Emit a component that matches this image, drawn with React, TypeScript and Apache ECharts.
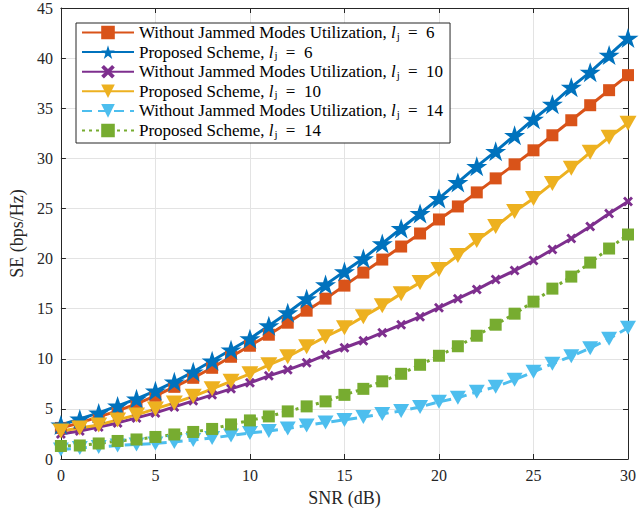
import React, { useEffect, useRef } from "react";
import * as echarts from "echarts";

const snr = [0, 1, 2, 3, 4, 5, 6, 7, 8, 9, 10, 11, 12, 13, 14, 15, 16, 17, 18, 19, 20, 21, 22, 23, 24, 25, 26, 27, 28, 29, 30];

const withoutLj6 = [3.1, 3.6, 4.2, 4.8, 5.5, 6.3, 7.2, 8.1, 9.1, 10.2, 11.3, 12.4, 13.6, 14.8, 16.0, 17.3, 18.6, 19.9, 21.2, 22.5, 23.9, 25.2, 26.6, 28.0, 29.4, 30.8, 32.3, 33.8, 35.3, 36.8, 38.3];
const proposedLj6 = [3.4, 4.0, 4.6, 5.3, 6.0, 6.8, 7.7, 8.7, 9.8, 10.9, 12.0, 13.3, 14.6, 16.0, 17.4, 18.7, 20.0, 21.5, 23.0, 24.5, 26.0, 27.6, 29.2, 30.7, 32.3, 33.9, 35.4, 37.1, 38.6, 40.3, 42.0];
const withoutLj10 = [2.5, 2.8, 3.2, 3.6, 4.1, 4.6, 5.2, 5.8, 6.4, 7.0, 7.6, 8.3, 8.9, 9.6, 10.4, 11.1, 11.8, 12.6, 13.4, 14.2, 15.1, 16.0, 16.9, 17.9, 18.8, 19.8, 20.9, 22.0, 23.2, 24.5, 25.7];
const proposedLj10 = [2.8, 3.1, 3.4, 3.9, 4.4, 5.0, 5.6, 6.25, 7.0, 7.75, 8.5, 9.4, 10.2, 11.2, 12.2, 13.1, 14.2, 15.3, 16.5, 17.6, 18.9, 20.3, 21.8, 23.2, 24.7, 26.0, 27.5, 29.0, 30.6, 32.1, 33.5];
const withoutLj14 = [0.95, 1.1, 1.2, 1.35, 1.45, 1.55, 1.7, 1.9, 2.1, 2.35, 2.6, 2.8, 3.05, 3.35, 3.65, 3.9, 4.2, 4.5, 4.8, 5.2, 5.7, 6.1, 6.7, 7.2, 7.9, 8.7, 9.5, 10.25, 11.05, 12.0, 13.1];
const proposedLj14 = [1.3, 1.35, 1.55, 1.8, 1.95, 2.2, 2.45, 2.7, 3.0, 3.45, 3.85, 4.25, 4.75, 5.25, 5.75, 6.4, 7.0, 7.75, 8.5, 9.4, 10.3, 11.25, 12.3, 13.4, 14.5, 15.7, 17.0, 18.2, 19.6, 21.0, 22.4];

const legendPrefix = [
  "Without Jammed Modes Utilization",
  "Proposed Scheme",
  "Without Jammed Modes Utilization",
  "Proposed Scheme",
  "Without Jammed Modes Utilization",
  "Proposed Scheme",
];
const ljValues = [6, 6, 10, 10, 14, 14];
const seriesValues = [withoutLj6, proposedLj6, withoutLj10, proposedLj10, withoutLj14, proposedLj14];

const xTicks = { min: 0, max: 30, interval: 5 };
const yTicks = { min: 0, max: 45, interval: 5 };

const FONT = "'Liberation Serif', 'Times New Roman', serif";
const STAR = "path://M50,0 L61.2,34.5 L97.6,34.5 L68.2,55.9 L79.4,90.5 L50,69.1 L20.6,90.5 L31.8,55.9 L2.4,34.5 L38.8,34.5 Z";
const XMARK = "path://M0,2 L2,0 L5,3 L8,0 L10,2 L7,5 L10,8 L8,10 L5,7 L2,10 L0,8 L3,5 Z";

const styles = [
  { color: "#D95319", symbol: "rect", size: [12, 12], rotate: 0, type: "solid" },
  { color: "#0072BD", symbol: STAR, size: [21, 20], rotate: 0, type: "solid" },
  { color: "#7E2F8E", symbol: XMARK, size: [10, 10], rotate: 0, type: "solid" },
  { color: "#EDB120", symbol: "triangle", size: [17, 15], rotate: 180, type: "solid" },
  { color: "#4DBEEE", symbol: "triangle", size: [16, 14], rotate: 180, type: [10, 6] },
  { color: "#77AC30", symbol: "rect", size: [12, 12], rotate: 0, type: [3, 4] },
];

export default function App() {
  const ref = useRef<HTMLDivElement>(null);
  useEffect(() => {
    if (!ref.current) return;
    const chart = echarts.init(ref.current, undefined, { renderer: "svg" });
    const names = legendPrefix.map((p, i) => `${p}, lj = ${ljValues[i]}`);
    const axisCommon = {
      type: "value" as const,
      axisLine: { show: true, onZero: false, lineStyle: { color: "#262626", width: 1 } },
      axisTick: { show: true, inside: true, length: 5, lineStyle: { color: "#262626" } },
    };
    chart.setOption({
      animation: false,
      backgroundColor: "#ffffff",
      grid: { left: 58, right: 8, top: 8, bottom: 57, containLabel: false },
      legend: {
        orient: "vertical",
        left: 76,
        top: 23,
        itemWidth: 52,
        itemHeight: 17,
        itemGap: 2.6,
        padding: [1, 7, 4, 5],
        borderColor: "#262626",
        borderWidth: 1,
        backgroundColor: "#ffffff",
        data: names,
        textStyle: {
          fontFamily: FONT,
          fontSize: 17,
          color: "#000",
          rich: {
            t: { fontFamily: FONT, fontSize: 17, lineHeight: 17, color: "#000" },
            e: { fontFamily: FONT, fontSize: 17, lineHeight: 17, color: "#000", padding: [0, 0, 0, 3] },
            i: { fontFamily: FONT, fontSize: 17, lineHeight: 17, fontStyle: "italic", color: "#000" },
            s: { fontFamily: FONT, fontSize: 11, lineHeight: 11, verticalAlign: "bottom", color: "#000", padding: [0, 1, 0, 1] },
          },
        },
        formatter: (name: string) => {
          const i = names.indexOf(name);
          return `{t|${legendPrefix[i]}, }{i|l}{s|j}{e| =  ${ljValues[i]}}`;
        },
      },
      xAxis: [
        {
          ...axisCommon,
          ...xTicks,
          position: "bottom",
          splitLine: { show: true, lineStyle: { color: "#e3e3e3", width: 1 } },
          axisLabel: { fontFamily: FONT, fontSize: 16, color: "#262626", margin: 8 },
          name: "SNR (dB)",
          nameLocation: "middle",
          nameGap: 30,
          nameTextStyle: { fontFamily: FONT, fontSize: 18, color: "#262626" },
        },
        {
          ...axisCommon,
          ...xTicks,
          position: "top",
          splitLine: { show: false },
          axisLabel: { show: false },
        },
      ],
      yAxis: [
        {
          ...axisCommon,
          ...yTicks,
          position: "left",
          splitLine: { show: true, lineStyle: { color: "#e3e3e3", width: 1 } },
          axisLabel: { fontFamily: FONT, fontSize: 16, color: "#262626", margin: 8 },
          name: "SE (bps/Hz)",
          nameLocation: "middle",
          nameGap: 32,
          nameTextStyle: { fontFamily: FONT, fontSize: 18, color: "#262626" },
        },
        {
          ...axisCommon,
          ...yTicks,
          position: "right",
          splitLine: { show: false },
          axisLabel: { show: false },
        },
      ],
      series: seriesValues.map((vals, i) => ({
        name: names[i],
        type: "line",
        xAxisIndex: 0,
        yAxisIndex: 0,
        data: snr.map((x, k) => [x, vals[k]]),
        symbol: styles[i].symbol,
        symbolSize: styles[i].size,
        symbolRotate: styles[i].rotate,
        showSymbol: true,
        lineStyle: { color: styles[i].color, width: 3, type: styles[i].type, cap: "butt" },
        itemStyle: { color: styles[i].color },
        emphasis: { disabled: true },
      })),
    });
    return () => chart.dispose();
  }, []);
  return <div ref={ref} style={{ position: "absolute", left: 0, top: 0, width: 639, height: 516 }} />;
}
